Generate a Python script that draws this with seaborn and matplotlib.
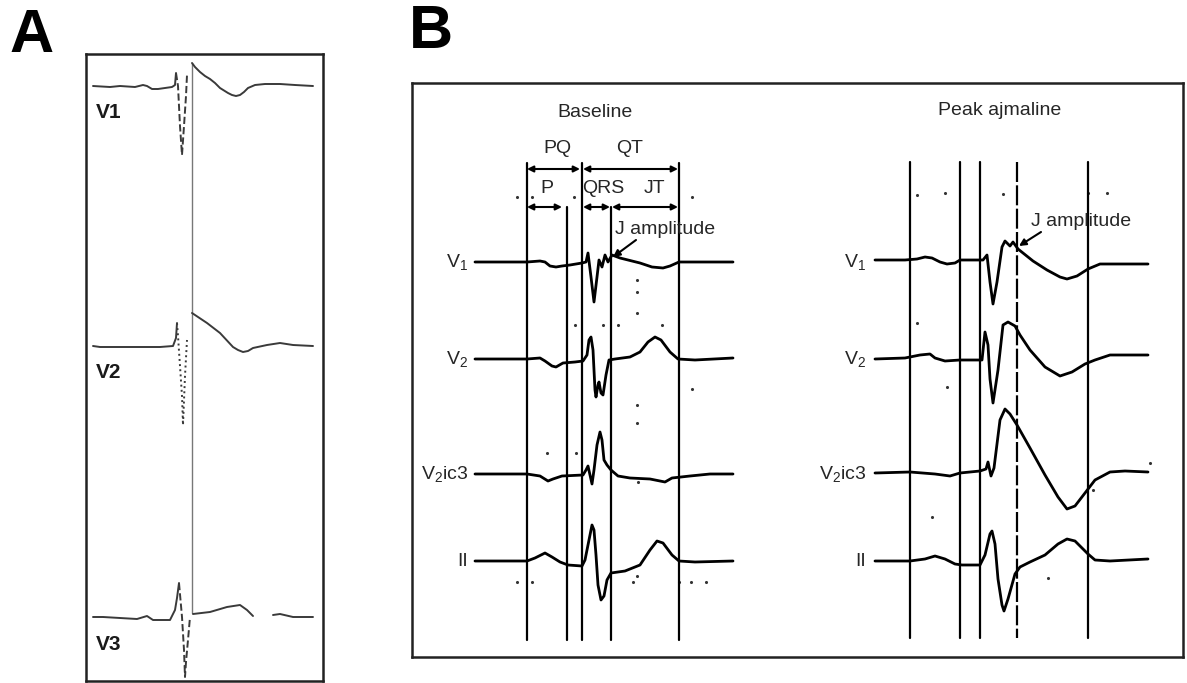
import matplotlib
matplotlib.use('Agg')
import matplotlib.pyplot as plt
import seaborn as sns

sns.set_style('white')
plt.rcParams['font.family'] = ['Liberation Sans', 'DejaVu Sans']
plt.rcParams['mathtext.fontset'] = 'custom'
plt.rcParams['mathtext.rm'] = 'Liberation Sans'
plt.rcParams['mathtext.it'] = 'Liberation Sans'

# ---- Panel A: raw traces (time, amplitude up; units follow the scan) ----
a_leads = ['V1', 'V2', 'V3']
a_base = {'V1': 86, 'V2': 346, 'V3': 617}

a_v1_pre_t = [93, 110, 120, 135, 143, 147, 152, 158, 165, 172, 175, 176]
a_v1_pre_a = [0, -1, 0, -1, 1, 0, -3, -3, -2, -1, 1, 13]
a_v1_qrs_t = [176, 178, 180, 182, 184, 186, 187]
a_v1_qrs_a = [13, 0, -40, -69, -40, -10, 11]
a_v1_post_t = [192, 195, 200, 205, 210, 215, 220, 228, 232, 236, 240, 244, 248, 255, 265, 280, 295, 313]
a_v1_post_a = [23, 19, 14, 10, 7, 3, -2, -7, -9, -10, -9, -6, -2, 1, 2, 2, 1, 0]

a_v2_pre_t = [93, 100, 120, 140, 160, 173, 176, 177]
a_v2_pre_a = [0, -1, -1, -1, -1, 0, 8, 23]
a_v2_qrs_t = [177, 178, 180, 182, 183, 185, 187]
a_v2_qrs_a = [23, 10, -20, -50, -79, -30, 6]
a_v2_post_t = [192, 207, 220, 233, 238, 243, 248, 253, 267, 280, 293, 313]
a_v2_post_a = [33, 23, 13, -1, -4, -6, -5, -2, 1, 3, 1, 0]

a_v3_pre_t = [93, 103, 120, 137, 147, 153, 170, 175, 177, 179]
a_v3_pre_a = [0, 0, -1, -2, 1, -3, -3, 7, 19, 34]
a_v3_qrs_t = [179, 182, 184, 185, 186, 188, 190]
a_v3_qrs_a = [34, 0, -33, -60, -45, -23, 0]
a_v3_post_t = [193, 210, 227, 240, 247, 253]
a_v3_post_a = [3, 5, 10, 12, 7, 1]
a_v3_tail_t = [273, 280, 293, 313]
a_v3_tail_a = [2, 3, 0, 0]

a_marker_x = 192
a_marker_span = (63, 613)

# ---- Panel B: annotated traces ----
b_leads = ['V$_1$', 'V$_2$', 'V$_2$ic3', 'II']
b_base = [262, 359, 474, 561]

base_v1_t = [475, 527, 540, 545, 550, 556, 562, 570, 582, 586, 588, 591, 594, 597, 599, 602, 605, 608, 612, 620, 640, 652, 663, 670, 679, 700, 733]
base_v1_a = [0, 0, 1, 0, -4, -5, -4, -3, -1, 0, 9, -15, -40, -15, 2, -5, 7, 0, 7, 4, -1, -5, -6, -4, 0, 0, 0]
base_v2_t = [475, 527, 540, 545, 552, 556, 563, 575, 583, 587, 589, 591, 593, 595, 596, 598, 599, 601, 603, 606, 609, 615, 630, 640, 648, 655, 661, 670, 678, 695, 733]
base_v2_a = [0, 0, 1, -2, -7, -8, -4, -3, -2, 4, 19, 22, 9, -31, -38, -26, -23, -34, -36, -16, -1, 0, 2, 7, 17, 22, 19, 7, 0, -1, 1]
base_v3_t = [475, 527, 540, 548, 553, 562, 583, 586, 588, 590, 592, 594, 597, 600, 602, 604, 607, 611, 618, 630, 650, 660, 665, 672, 690, 710, 733]
base_v3_a = [0, 0, -2, -7, -5, -2, -1, 4, 8, -1, -10, 4, 29, 42, 34, 14, 9, 4, -2, -4, -5, -7, -8, -4, -2, 0, 0]
base_v4_t = [475, 527, 535, 545, 552, 560, 568, 582, 585, 589, 592, 594, 596, 598, 601, 604, 607, 611, 625, 640, 650, 657, 663, 672, 679, 695, 733]
base_v4_a = [0, 0, 3, 8, 4, -1, -4, -5, 1, 21, 36, 31, 6, -24, -39, -35, -19, -12, -10, -4, 11, 20, 18, 6, 0, -1, 0]

ajm_v1_t = [875, 905, 917, 925, 932, 940, 947, 955, 960, 983, 987, 990, 993, 997, 1002, 1005, 1010, 1013, 1018, 1033, 1047, 1060, 1067, 1077, 1088, 1100, 1148]
ajm_v1_a = [2, 2, 3, 5, 4, 0, -2, -1, 2, 2, 7, -20, -42, -20, 15, 21, 16, 20, 13, 1, -8, -15, -17, -14, -7, -2, -2]
ajm_v2_t = [875, 905, 920, 930, 935, 945, 960, 982, 985, 988, 990, 993, 998, 1003, 1008, 1015, 1020, 1030, 1045, 1060, 1072, 1085, 1095, 1110, 1148]
ajm_v2_a = [0, 1, 4, 5, 1, -2, -1, -1, 27, 14, -20, -44, -11, 34, 37, 33, 24, 9, -8, -17, -13, -5, -1, 4, 4]
ajm_v3_t = [875, 910, 935, 950, 960, 980, 986, 988, 991, 994, 1000, 1005, 1010, 1017, 1030, 1045, 1058, 1067, 1075, 1085, 1095, 1110, 1125, 1148]
ajm_v3_a = [1, 2, 0, -2, 1, 3, 5, 12, -2, 6, 54, 65, 60, 49, 26, -1, -23, -35, -32, -19, -6, 2, 3, 2]
ajm_v4_t = [875, 910, 925, 935, 945, 955, 962, 980, 985, 990, 992, 995, 998, 1002, 1004, 1008, 1015, 1020, 1030, 1045, 1058, 1067, 1075, 1088, 1095, 1110, 1148]
ajm_v4_a = [0, 0, 2, 5, 2, -3, -4, -4, 6, 27, 30, 17, -18, -44, -50, -38, -13, -6, -1, 6, 17, 22, 20, 7, 1, 0, 2]

base_traces = [(base_v1_t, base_v1_a), (base_v2_t, base_v2_a), (base_v3_t, base_v3_a), (base_v4_t, base_v4_a)]
ajm_traces = [(ajm_v1_t, ajm_v1_a), (ajm_v2_t, ajm_v2_a), (ajm_v3_t, ajm_v3_a), (ajm_v4_t, ajm_v4_a)]

# interval markers
base_marks = [527, 567, 582, 611, 679]
base_mark_top = [163, 207, 163, 207, 163]
ajm_marks = [910, 960, 980, 1017, 1088]

# scanner specks
speck_x = [517, 532, 574, 692, 637, 637, 637, 575, 603, 618, 662, 692, 637, 637, 547, 576, 638, 517, 532, 633, 637, 679, 691, 706,
           917, 945, 1003, 1107, 1088, 917, 947, 932, 1048, 1150, 1093]
speck_y = [197, 197, 197, 197, 280, 292, 313, 325, 325, 325, 325, 389, 405, 423, 453, 453, 482, 582, 582, 582, 576, 582, 582, 582,
           195, 193, 194, 193, 193, 323, 387, 517, 578, 463, 490]

fig = plt.figure(figsize=(11.87, 6.83), dpi=100)
W, H = 1187, 683


def box(l, t, r, b):
    return fig.add_axes([l / W, 1 - b / H, (r - l) / W, (b - t) / H])


axA = box(86, 54, 323, 681)
axB = box(412, 83, 1183, 657)
for ax, (l, t, r, b) in [(axA, (86, 54, 323, 681)), (axB, (412, 83, 1183, 657))]:
    ax.set_xlim(l, r)
    ax.set_ylim(b, t)
    ax.set_xticks([])
    ax.set_yticks([])
    for s in ax.spines.values():
        s.set_color('#222222')
        s.set_linewidth(1.8)


def trace(ax, t, a, base, **kw):
    y = [base - v for v in a]
    sns.lineplot(x=t, y=y, ax=ax, sort=False, estimator=None, legend=False, **kw)


# Panel A
gray = '#3a3a3a'
axA.plot([a_marker_x, a_marker_x], a_marker_span, color='#777777', lw=1.0)
segs = {
    'V1': [(a_v1_pre_t, a_v1_pre_a, '-'), (a_v1_qrs_t, a_v1_qrs_a, '--'), (a_v1_post_t, a_v1_post_a, '-')],
    'V2': [(a_v2_pre_t, a_v2_pre_a, '-'), (a_v2_qrs_t, a_v2_qrs_a, ':'), (a_v2_post_t, a_v2_post_a, '-')],
    'V3': [(a_v3_pre_t, a_v3_pre_a, '-'), (a_v3_qrs_t, a_v3_qrs_a, '--'), (a_v3_post_t, a_v3_post_a, '-'),
           (a_v3_tail_t, a_v3_tail_a, '-')],
}
for lead in a_leads:
    for t, a, ls in segs[lead]:
        trace(axA, t, a, a_base[lead], color=gray, linewidth=1.4, linestyle=ls)
    axA.text(96, a_base[lead] + 27, lead, fontsize=15, fontweight='bold', va='center', ha='left', color='#1a1a1a')

# Panel B
for x, top in zip(base_marks, base_mark_top):
    axB.plot([x, x], [top, 640], color='black', lw=1.6)
for i, x in enumerate(ajm_marks):
    axB.plot([x, x], [162, 638], color='black', lw=1.6, linestyle=(0, (9, 1.5)) if i == 3 else '-')

for (t, a), base, lab in zip(base_traces, b_base, b_leads):
    trace(axB, t, a, base, color='black', linewidth=2.0)
    axB.text(468, base, lab, fontsize=14, ha='right', va='center')
for (t, a), base, lab in zip(ajm_traces, b_base, b_leads):
    trace(axB, t, a, base, color='black', linewidth=2.0)
    axB.text(866, base, lab, fontsize=14, ha='right', va='center')

sns.scatterplot(x=speck_x, y=speck_y, ax=axB, color='#333333', s=5, linewidth=0, legend=False)

axB.text(595, 112, 'Baseline', fontsize=14, ha='center', va='center')
axB.text(1000, 110, 'Peak ajmaline', fontsize=14, ha='center', va='center')
axB.text(557, 148, 'PQ', fontsize=14, ha='center', va='center')
axB.text(630, 148, 'QT', fontsize=14, ha='center', va='center')
axB.text(547, 188, 'P', fontsize=14, ha='center', va='center')
axB.text(603, 188, 'QRS', fontsize=14, ha='center', va='center')
axB.text(655, 188, 'JT', fontsize=14, ha='center', va='center')

arrow = dict(arrowstyle='<|-|>', color='black', lw=1.5, mutation_scale=9, shrinkA=0, shrinkB=0)
for x0, x1, y in [(527, 580, 169), (583, 678, 169), (527, 562, 207), (583, 610, 207), (612, 678, 207)]:
    axB.annotate('', xy=(x1, y), xytext=(x0, y), arrowprops=arrow)

pointer = dict(arrowstyle='-|>', color='black', lw=1.5, mutation_scale=10, shrinkA=0, shrinkB=0)
axB.text(615, 229, 'J amplitude', fontsize=14, ha='left', va='center')
axB.annotate('', xy=(613, 257), xytext=(636, 240), arrowprops=pointer)
axB.text(1031, 221, 'J amplitude', fontsize=14, ha='left', va='center')
axB.annotate('', xy=(1019, 246), xytext=(1041, 232), arrowprops=pointer)

fig.text(32 / W, 1 - 36 / H, 'A', fontsize=44, fontweight='bold', ha='center', va='center', color='black')
fig.text(431 / W, 1 - 33 / H, 'B', fontsize=44, fontweight='bold', ha='center', va='center', color='black')

fig.savefig('out.png', dpi=100)
